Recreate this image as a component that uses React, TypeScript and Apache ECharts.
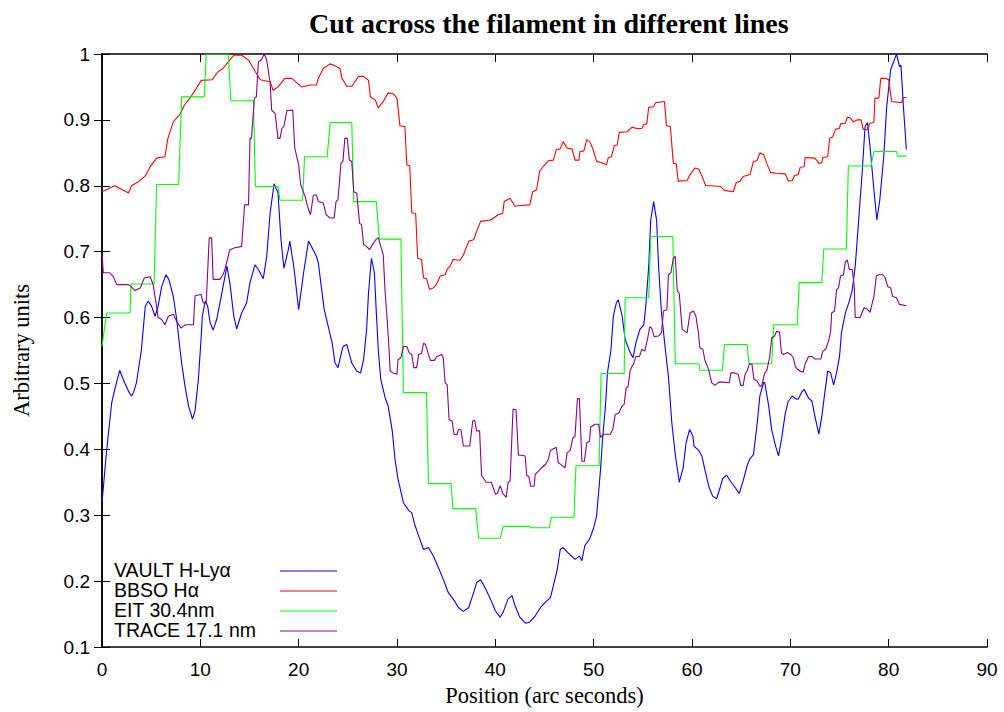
import React, { useEffect, useRef } from "react";
import * as echarts from "echarts";

const titleText = "Cut across the filament in different lines";
const xAxisName = "Position (arc seconds)";
const yAxisName = "Arbitrary units";

const seriesNames = ["VAULT H-Lyα", "BBSO Hα", "EIT 30.4nm", "TRACE 17.1 nm"];
const seriesColors = ["#0000ff", "#ff0000", "#00ff00", "#8b008b"];

const vault: number[][] = [
  [0,0.319],[0.48,0.40],[0.99,0.471],[1.3,0.491],[1.8,0.52],[2.3,0.501],[2.7,0.488],[3.0,0.481],[3.2,0.486],[3.5,0.501],[4.0,0.55],[4.4,0.617],[4.7,0.625],[5.05,0.617],[5.4,0.602],[5.7,0.617],[6.07,0.647],[6.5,0.665],[6.8,0.658],[7.25,0.632],[7.6,0.597],[7.9,0.556],[8.1,0.531],[8.44,0.496],[8.8,0.466],[9.2,0.446],[9.46,0.458],[9.8,0.506],[10.07,0.567],[10.2,0.602],[10.5,0.625],[10.75,0.617],[11.0,0.592],[11.3,0.581],[11.66,0.597],[12.1,0.63],[12.7,0.678],[13.0,0.653],[13.4,0.602],[13.7,0.583],[14.2,0.607],[14.7,0.622],[15.05,0.653],[15.55,0.68],[15.9,0.673],[16.4,0.659],[16.75,0.693],[17.1,0.759],[17.5,0.803],[17.9,0.789],[18.2,0.718],[18.5,0.675],[18.95,0.703],[19.1,0.716],[19.5,0.678],[20.0,0.612],[20.5,0.668],[21.0,0.716],[21.3,0.708],[21.8,0.693],[22.0,0.683],[22.3,0.647],[22.6,0.612],[23.0,0.587],[23.4,0.562],[23.7,0.531],[24.0,0.524],[24.5,0.556],[24.9,0.559],[25.4,0.531],[25.9,0.519],[26.3,0.516],[26.6,0.536],[26.9,0.58],[27.1,0.637],[27.4,0.69],[27.7,0.668],[27.9,0.607],[28.1,0.55],[28.35,0.506],[28.8,0.478],[29.1,0.466],[29.5,0.43],[29.8,0.385],[30.1,0.355],[30.65,0.319],[31.2,0.307],[31.5,0.304],[31.8,0.286],[32.2,0.269],[32.7,0.248],[33.2,0.251],[33.7,0.238],[34.2,0.221],[34.7,0.203],[35.2,0.183],[35.7,0.173],[36.25,0.16],[36.75,0.154],[37.3,0.16],[37.8,0.183],[38.1,0.198],[38.5,0.202],[38.96,0.19],[39.5,0.173],[40.0,0.155],[40.5,0.145],[40.8,0.153],[41.3,0.173],[41.7,0.178],[42.0,0.163],[42.5,0.145],[43.1,0.136],[43.5,0.138],[44.05,0.147],[44.6,0.16],[45.1,0.168],[45.6,0.175],[45.9,0.193],[46.3,0.218],[46.6,0.248],[46.9,0.251],[47.4,0.243],[48.1,0.233],[48.55,0.238],[48.8,0.231],[49.1,0.254],[49.6,0.264],[50.0,0.281],[50.3,0.299],[50.5,0.334],[50.7,0.37],[50.9,0.415],[51.2,0.466],[51.4,0.516],[51.75,0.55],[52.0,0.602],[52.3,0.622],[52.5,0.627],[52.9,0.602],[53.2,0.567],[53.65,0.549],[54.0,0.539],[54.3,0.562],[54.7,0.582],[55.1,0.589],[55.3,0.617],[55.6,0.678],[55.8,0.748],[56.1,0.776],[56.4,0.748],[56.6,0.678],[56.9,0.607],[57.3,0.55],[57.6,0.511],[57.95,0.44],[58.3,0.392],[58.7,0.35],[59.1,0.372],[59.4,0.41],[59.75,0.43],[60.1,0.42],[60.2,0.405],[60.7,0.398],[61.0,0.39],[61.3,0.37],[61.7,0.344],[62.1,0.329],[62.5,0.325],[62.8,0.339],[63.1,0.355],[63.5,0.361],[63.9,0.352],[64.3,0.344],[64.8,0.333],[65.2,0.352],[65.6,0.375],[65.9,0.386],[66.25,0.392],[66.6,0.435],[66.9,0.481],[67.3,0.502],[67.4,0.501],[67.8,0.466],[68.1,0.43],[68.5,0.405],[68.8,0.39],[69.1,0.415],[69.5,0.456],[69.8,0.473],[70.2,0.481],[70.5,0.477],[70.8,0.476],[71.2,0.488],[71.4,0.491],[71.85,0.478],[72.2,0.473],[72.5,0.45],[72.9,0.423],[73.2,0.45],[73.55,0.491],[73.8,0.519],[74.1,0.516],[74.4,0.498],[74.7,0.516],[75.0,0.541],[75.2,0.577],[75.6,0.607],[76.0,0.625],[76.3,0.642],[76.6,0.678],[76.9,0.738],[77.3,0.819],[77.6,0.89],[77.85,0.896],[78.1,0.86],[78.5,0.794],[78.8,0.748],[79.1,0.779],[79.5,0.844],[79.8,0.92],[80.2,0.976],[80.7,0.996],[80.8,1.0],[81.1,0.981],[81.25,0.983],[81.5,0.92],[81.8,0.855]
];

const bbso: number[][] = [
  [0,0.791],[1.3,0.80],[2.7,0.789],[3.0,0.80],[3.7,0.806],[4.4,0.815],[4.9,0.829],[5.56,0.842],[6.4,0.844],[6.7,0.872],[7.25,0.897],[7.9,0.908],[8.4,0.923],[8.95,0.933],[9.46,0.945],[10.1,0.96],[11.2,0.961],[11.8,0.973],[12.3,0.978],[13.0,0.991],[13.4,0.998],[14.2,0.998],[14.9,0.991],[15.6,0.973],[16.1,0.961],[17.1,0.958],[17.4,0.945],[17.9,0.95],[18.6,0.963],[19.3,0.963],[20.3,0.95],[21.2,0.953],[21.8,0.953],[22.0,0.963],[22.5,0.978],[23.2,0.985],[23.7,0.982],[24.2,0.978],[24.4,0.963],[24.9,0.951],[25.4,0.951],[26.1,0.966],[26.6,0.966],[27.1,0.96],[27.3,0.935],[27.8,0.93],[28.1,0.918],[28.6,0.928],[29.1,0.941],[29.6,0.94],[30.0,0.933],[30.3,0.891],[30.8,0.89],[31.0,0.832],[31.3,0.83],[31.5,0.759],[31.9,0.758],[32.1,0.69],[32.5,0.688],[32.7,0.66],[33.0,0.659],[33.3,0.643],[33.7,0.645],[34.0,0.65],[34.4,0.663],[34.9,0.665],[35.1,0.673],[35.4,0.678],[35.7,0.688],[36.4,0.687],[36.75,0.695],[37.3,0.716],[37.8,0.718],[38.1,0.731],[38.5,0.746],[39.5,0.748],[40.0,0.753],[40.3,0.756],[40.75,0.758],[40.9,0.776],[41.5,0.781],[42.0,0.769],[42.5,0.77],[43.5,0.771],[43.8,0.791],[44.2,0.794],[44.5,0.822],[44.9,0.83],[45.4,0.838],[45.9,0.839],[46.2,0.855],[46.6,0.856],[46.9,0.867],[47.3,0.857],[47.8,0.856],[48.1,0.839],[48.5,0.839],[48.6,0.852],[49.0,0.853],[49.3,0.87],[49.6,0.867],[49.9,0.857],[50.3,0.837],[50.8,0.835],[51.3,0.832],[51.5,0.843],[51.8,0.844],[52.1,0.861],[52.4,0.862],[52.6,0.881],[53.4,0.882],[53.9,0.889],[54.4,0.887],[54.9,0.887],[55.1,0.893],[55.4,0.894],[55.6,0.919],[56.1,0.92],[56.3,0.926],[57.2,0.928],[57.4,0.891],[57.8,0.89],[58.1,0.834],[58.4,0.833],[58.6,0.807],[59.5,0.808],[59.8,0.817],[60.3,0.827],[60.7,0.825],[61.0,0.815],[61.4,0.80],[62.0,0.80],[62.9,0.799],[63.3,0.793],[64.2,0.791],[64.5,0.805],[64.9,0.807],[65.2,0.814],[65.9,0.817],[66.25,0.837],[66.6,0.838],[66.9,0.85],[67.3,0.847],[67.6,0.834],[68.0,0.82],[68.6,0.819],[69.5,0.818],[69.8,0.807],[70.2,0.808],[70.4,0.815],[70.8,0.817],[71.0,0.828],[71.4,0.829],[71.5,0.843],[72.5,0.842],[72.9,0.834],[73.2,0.835],[73.3,0.843],[73.8,0.844],[74.0,0.872],[74.3,0.874],[74.6,0.886],[75.0,0.887],[75.1,0.894],[75.6,0.895],[75.8,0.904],[76.1,0.903],[76.4,0.897],[76.8,0.90],[77.2,0.90],[77.4,0.886],[77.8,0.885],[78.1,0.895],[78.5,0.896],[78.6,0.933],[79.0,0.933],[79.2,0.963],[79.65,0.963],[80.0,0.961],[80.3,0.928],[81.3,0.926],[81.5,0.934],[81.8,0.934]
];

const eit: number[][] = [
  [0,0.556],[0.47,0.607],[2.85,0.607],[2.95,0.651],[5.3,0.651],[5.55,0.802],[7.8,0.802],[8.1,0.935],[10.4,0.935],[10.6,1.0],[12.85,1.0],[13.1,0.929],[15.4,0.929],[15.6,0.799],[17.9,0.799],[18.1,0.778],[20.4,0.778],[20.6,0.844],[22.9,0.844],[23.2,0.896],[25.4,0.896],[25.6,0.776],[27.9,0.776],[28.2,0.719],[30.4,0.719],[30.65,0.486],[33.0,0.486],[33.2,0.348],[35.5,0.348],[35.7,0.31],[38.0,0.31],[38.3,0.265],[40.5,0.265],[40.8,0.283],[43.5,0.283],[43.6,0.281],[45.5,0.281],[45.7,0.297],[48.0,0.297],[48.2,0.375],[50.55,0.375],[50.75,0.515],[53.1,0.515],[53.2,0.63],[55.6,0.63],[55.8,0.723],[58.05,0.723],[58.3,0.53],[60.7,0.53],[60.8,0.52],[63.1,0.52],[63.3,0.559],[65.6,0.559],[65.8,0.53],[68.1,0.53],[68.3,0.589],[70.7,0.589],[70.9,0.653],[73.2,0.653],[73.4,0.704],[75.7,0.704],[75.9,0.83],[78.2,0.83],[78.5,0.852],[80.8,0.852],[80.9,0.845],[81.8,0.845]
];

const trace: number[][] = [
  [0,0.698],[0.13,0.668],[0.8,0.668],[1.15,0.662],[1.5,0.65],[2.7,0.65],[2.95,0.647],[3.35,0.641],[3.9,0.645],[4.3,0.66],[4.9,0.662],[5.2,0.65],[5.55,0.617],[5.7,0.6],[6.07,0.597],[6.4,0.589],[6.75,0.602],[7.25,0.605],[7.6,0.594],[8.04,0.584],[8.44,0.589],[9.3,0.589],[9.46,0.633],[10.07,0.635],[10.3,0.622],[10.6,0.622],[10.9,0.721],[11.15,0.721],[11.3,0.658],[12.0,0.658],[12.3,0.665],[12.5,0.673],[13.0,0.703],[13.5,0.706],[14.2,0.708],[14.5,0.771],[14.9,0.771],[15.05,0.872],[15.2,0.872],[15.5,0.933],[15.7,0.935],[15.9,0.988],[16.2,0.991],[16.5,1.0],[16.75,0.991],[17.1,0.956],[17.25,0.915],[17.6,0.91],[17.9,0.872],[18.1,0.872],[18.3,0.887],[18.5,0.89],[18.8,0.914],[19.4,0.915],[19.6,0.857],[20.0,0.832],[20.2,0.802],[20.65,0.784],[20.9,0.769],[21.2,0.756],[21.5,0.786],[21.8,0.786],[22.0,0.776],[22.5,0.774],[22.8,0.756],[23.2,0.751],[23.6,0.751],[23.8,0.776],[24.0,0.779],[24.3,0.834],[24.5,0.837],[24.7,0.872],[24.95,0.872],[25.15,0.839],[25.4,0.837],[25.6,0.791],[25.9,0.789],[26.2,0.743],[26.4,0.741],[26.6,0.711],[26.9,0.708],[27.2,0.703],[27.6,0.713],[27.9,0.719],[28.1,0.721],[28.35,0.708],[28.6,0.695],[28.8,0.637],[29.0,0.597],[29.2,0.55],[29.3,0.519],[29.6,0.516],[30.0,0.514],[30.1,0.536],[30.4,0.539],[30.65,0.556],[31.0,0.556],[31.26,0.546],[31.5,0.544],[31.7,0.524],[32.0,0.524],[32.2,0.544],[32.5,0.546],[32.7,0.561],[32.9,0.559],[33.2,0.544],[33.4,0.535],[33.8,0.535],[34.05,0.541],[34.55,0.544],[34.7,0.539],[34.9,0.501],[35.1,0.498],[35.3,0.445],[35.6,0.443],[35.8,0.423],[36.1,0.422],[36.25,0.43],[36.5,0.43],[36.75,0.405],[37.4,0.405],[37.7,0.443],[37.9,0.444],[38.1,0.428],[38.4,0.428],[38.6,0.36],[38.86,0.355],[39.06,0.35],[39.6,0.35],[40.0,0.332],[40.2,0.333],[40.5,0.345],[40.75,0.333],[41.1,0.327],[41.3,0.35],[41.5,0.352],[41.8,0.461],[42.1,0.46],[42.35,0.391],[42.7,0.391],[43.03,0.39],[43.2,0.36],[43.4,0.359],[43.6,0.344],[43.95,0.344],[44.05,0.362],[44.4,0.367],[44.7,0.372],[45.1,0.377],[45.4,0.385],[45.6,0.398],[45.9,0.401],[46.2,0.403],[46.4,0.38],[46.75,0.376],[47.1,0.372],[47.3,0.395],[47.6,0.398],[47.9,0.418],[48.1,0.419],[48.35,0.477],[48.55,0.477],[48.8,0.382],[49.06,0.382],[49.3,0.41],[49.56,0.412],[49.7,0.434],[50.15,0.438],[50.5,0.438],[50.7,0.418],[51.0,0.423],[51.7,0.423],[51.95,0.431],[52.2,0.453],[52.55,0.455],[52.9,0.466],[53.1,0.468],[53.3,0.493],[53.5,0.495],[53.7,0.519],[53.9,0.526],[54.05,0.529],[54.3,0.541],[54.66,0.541],[54.9,0.552],[55.2,0.549],[55.5,0.569],[55.7,0.586],[55.9,0.584],[56.15,0.571],[56.6,0.572],[56.9,0.577],[57.1,0.61],[57.45,0.612],[57.6,0.665],[57.85,0.668],[58.1,0.69],[58.3,0.693],[58.5,0.64],[58.7,0.637],[59.0,0.582],[59.3,0.579],[59.5,0.577],[59.8,0.607],[60.15,0.61],[60.4,0.602],[60.65,0.577],[60.8,0.554],[61.1,0.552],[61.3,0.536],[61.7,0.521],[62.0,0.501],[62.35,0.497],[62.7,0.502],[63.2,0.502],[63.8,0.501],[63.95,0.516],[64.3,0.516],[64.7,0.514],[64.96,0.497],[65.2,0.497],[65.4,0.514],[65.6,0.519],[65.85,0.53],[66.1,0.529],[66.3,0.506],[66.6,0.504],[66.9,0.496],[67.1,0.496],[67.2,0.504],[67.4,0.516],[67.6,0.519],[67.9,0.54],[68.1,0.569],[68.4,0.572],[68.6,0.579],[68.9,0.578],[69.1,0.546],[69.3,0.544],[69.7,0.547],[70.06,0.544],[70.3,0.539],[70.5,0.526],[70.7,0.522],[71.0,0.519],[71.3,0.517],[71.5,0.529],[71.85,0.541],[72.2,0.541],[72.5,0.537],[73.1,0.537],[73.3,0.549],[73.6,0.552],[73.9,0.565],[74.1,0.579],[74.2,0.607],[74.5,0.61],[74.7,0.642],[74.9,0.645],[75.1,0.663],[75.4,0.665],[75.6,0.685],[75.8,0.687],[76.0,0.673],[76.3,0.673],[76.5,0.647],[76.6,0.6],[77.1,0.6],[77.5,0.615],[77.8,0.613],[78.1,0.608],[78.3,0.62],[78.5,0.632],[78.75,0.663],[79.0,0.665],[79.4,0.665],[79.65,0.66],[79.9,0.647],[80.2,0.645],[80.4,0.632],[80.8,0.63],[81.1,0.62],[81.8,0.618]
];

const seriesData = [vault, bbso, eit, trace];

const GRID_LEFT = 102;
const GRID_TOP = 54;
const GRID_RIGHT = 17;
const GRID_BOTTOM = 64;

export default function App() {
  const ref = useRef<HTMLDivElement>(null);

  useEffect(() => {
    if (!ref.current) return;
    const chart = echarts.init(ref.current, null, { renderer: "svg" });

    const tickFont = { fontFamily: "Liberation Sans", fontSize: 19, color: "#000" };
    const axisLine = { show: true, lineStyle: { color: "#000", width: 1.5 } };
    const axisTick = { show: true, inside: true, length: 8, lineStyle: { color: "#000", width: 1 } };

    const legendGraphics: any[] = [];
    seriesNames.forEach((name, i) => {
      const y = 571 + i * 20;
      legendGraphics.push({
        type: "text",
        left: 114,
        top: y - 11,
        style: { text: name, font: "19.5px 'Liberation Sans'", fill: "#000" },
      });
      legendGraphics.push({
        type: "line",
        shape: { x1: 280, y1: y, x2: 337, y2: y },
        style: { stroke: seriesColors[i], lineWidth: 1.2 },
      });
    });

    chart.setOption({
      animation: false,
      backgroundColor: "#fff",
      title: {
        text: titleText,
        left: 304,
        top: 4,
        textStyle: { fontFamily: "Liberation Serif", fontWeight: "bold", fontSize: 28, color: "#000" },
      },
      grid: { left: GRID_LEFT, top: GRID_TOP, right: GRID_RIGHT, bottom: GRID_BOTTOM },
      xAxis: [
        {
          type: "value",
          min: 0,
          max: 90,
          interval: 10,
          name: xAxisName,
          nameLocation: "middle",
          nameGap: 37,
          nameTextStyle: { fontFamily: "Liberation Serif", fontSize: 22.5, color: "#000" },
          axisLine,
          axisTick,
          axisLabel: { ...tickFont, margin: 13 },
          splitLine: { show: false },
        },
        {
          type: "value",
          position: "top",
          min: 0,
          max: 90,
          interval: 10,
          axisLine,
          axisTick,
          axisLabel: { show: false },
          splitLine: { show: false },
        },
      ],
      yAxis: [
        {
          type: "value",
          min: 0.1,
          max: 1,
          interval: 0.1,
          name: yAxisName,
          nameLocation: "middle",
          nameGap: 69,
          nameRotate: 90,
          nameTextStyle: { fontFamily: "Liberation Serif", fontSize: 22.5, color: "#000" },
          axisLine,
          axisTick,
          axisLabel: {
            ...tickFont,
            margin: 12,
            formatter: (v: number) => String(parseFloat(v.toFixed(2))),
          },
          splitLine: { show: false },
        },
        {
          type: "value",
          position: "right",
          min: 0.1,
          max: 1,
          interval: 0.1,
          axisLine,
          axisTick,
          axisLabel: { show: false },
          splitLine: { show: false },
        },
      ],
      series: seriesData.map((d, i) => ({
        type: "line",
        name: seriesNames[i],
        data: d,
        showSymbol: false,
        symbol: "none",
        lineStyle: { color: seriesColors[i], width: 1.1 },
        itemStyle: { color: seriesColors[i] },
        z: 2 + i,
      })),
      graphic: legendGraphics,
    });

    return () => chart.dispose();
  }, []);

  return (
    <div
      ref={ref}
      style={{ position: "fixed", left: 0, top: 0, width: 1004, height: 712, background: "#fff" }}
    />
  );
}
